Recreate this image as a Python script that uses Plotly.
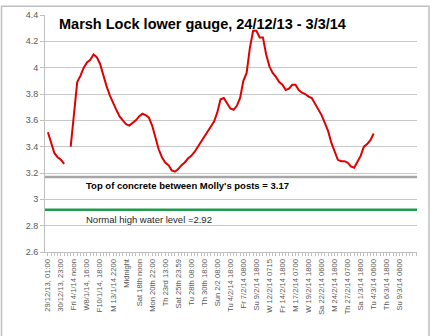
import plotly.graph_objects as go

tick_labels = ["29/12/13, 01:00", "30/12/13, 23:00", "Fri 4/1/14 noon", "W8/1/14, 16:00",
               "F10/1/14, 18:00", "M 13/1/14 2200", "Midnight", "Sat 18th noon",
               "Mon 20th 22:00", "Th 23rd 13:00", "Sat 25th 23.59", "Tu 28th 08:00",
               "Th 30th 18:00", "Sun 2/2 08:00", "Tu 4/2/14 18:00", "Fr 7/2/14 0800",
               "Su 9/2/14 1800", "W 12/2/14 0715", "Fr 14/2/14 1800", "M 17/2/14 0700",
               "W 19/2/14 1800", "Sa 22/2/14 0600", "M 24/2/14 1800", "Th 27/2/14 0700",
               "Sa 1/3/14 1800", "Tu 4/3/14 0600", "Th 6/3/14 1800", "Su 9/3/14 0600"]
label_every = 4

level = [3.51, 3.42, 3.35, 3.32, 3.30, 3.27, None, 3.40, 3.65, 3.89,
         3.94, 4.00, 4.04, 4.06, 4.10, 4.08, 4.03, 3.94, 3.86, 3.79,
         3.73, 3.68, 3.63, 3.60, 3.57, 3.56, 3.58, 3.60, 3.63, 3.65,
         3.64, 3.62, 3.56, 3.46, 3.38, 3.32, 3.28, 3.26, 3.22, 3.21,
         3.23, 3.26, 3.28, 3.31, 3.33, 3.36, 3.40, 3.44, 3.47, 3.52,
         3.56, 3.59, 3.66, 3.76, 3.77, 3.73, 3.69, 3.68, 3.71, 3.77,
         3.90, 3.96, 4.15, 4.28, 4.28, 4.23, 4.23, 4.10, 4.01, 3.96,
         3.93, 3.89, 3.87, 3.83, 3.84, 3.87, 3.87, 3.83, 3.81, 3.80,
         3.78, 3.77, 3.73, 3.68, 3.64, 3.58, 3.52, 3.43, 3.36, 3.30,
         3.29, 3.29, 3.28, 3.25, 3.24, 3.28, 3.33, 3.40, 3.42, 3.45,
         3.50]
concrete_level = 3.17
normal_high = 2.92

n_cat = len(tick_labels) * label_every
idx = list(range(len(level)))
tickvals = [i * label_every for i in range(len(tick_labels))]
x_range = [-0.89, n_cat + 1.3]

fig = go.Figure()
fig.add_trace(go.Scatter(x=idx, y=level, mode="lines",
                         line=dict(color="#e00000", width=2), connectgaps=False,
                         hoverinfo="skip"))
fig.add_trace(go.Scatter(x=x_range, y=[concrete_level] * 2, mode="lines",
                         line=dict(color="#a6a6a6", width=2.5), hoverinfo="skip"))
fig.add_trace(go.Scatter(x=x_range, y=[normal_high] * 2, mode="lines",
                         line=dict(color="#1f9a4e", width=2.5), hoverinfo="skip"))

fig.update_layout(
    width=434, height=336,
    margin=dict(l=45, r=17, t=10, b=84),
    paper_bgcolor="white", plot_bgcolor="white",
    showlegend=False,
    font=dict(family="Liberation Sans, Arial, sans-serif", color="#595959", size=9),
    xaxis=dict(range=x_range, tickmode="array", tickvals=tickvals,
               ticktext=tick_labels, tickangle=-90, showgrid=False, zeroline=False,
               showline=True, linecolor="#bfbfbf", linewidth=1,
               ticks="outside", ticklen=3, tickcolor="#bfbfbf",
               minor=dict(dtick=1, tick0=0, ticks="outside", ticklen=3, tickcolor="#bfbfbf"),
               tickfont=dict(size=7.6, color="#595959")),
    yaxis=dict(range=[2.6, 4.4], dtick=0.2, tick0=2.6, showgrid=True, gridcolor="#c8c8c8",
               gridwidth=1, zeroline=False, showline=True, linecolor="#bfbfbf",
               ticks="outside", ticklen=4, tickcolor="#bfbfbf",
               tickformat="~g", tickfont=dict(size=9, color="#595959")),
    shapes=[dict(type="rect", xref="paper", yref="paper",
                 x0=(1.5 - 45) / 372, x1=(429 - 45) / 372,
                 y0=(84 - 333) / 242, y1=1 + 9 / 242,
                 line=dict(color="#c0c0c0", width=1.5))],
    annotations=[
        dict(text="<b>Marsh Lock lower gauge, 24/12/13 - 3/3/14</b>", xref="paper", yref="paper",
             x=(57 - 45) / 372, y=1 - (19 - 10) / 242, xanchor="left", yanchor="middle",
             showarrow=False, font=dict(size=14.5, color="black", family="Liberation Sans, sans-serif")),
        dict(text="<b>Top of concrete between Molly's posts = 3.17</b>", xref="paper", yref="paper",
             x=(84 - 45) / 372, y=1 - (184 - 10) / 242, xanchor="left", yanchor="middle",
             showarrow=False, font=dict(size=9.5, color="black")),
        dict(text="Normal high water level =2.92", xref="paper", yref="paper",
             x=(84 - 45) / 372, y=1 - (219 - 10) / 242, xanchor="left", yanchor="middle",
             showarrow=False, font=dict(size=9.5, color="#262626")),
    ],
)
fig.write_html("out.html")
